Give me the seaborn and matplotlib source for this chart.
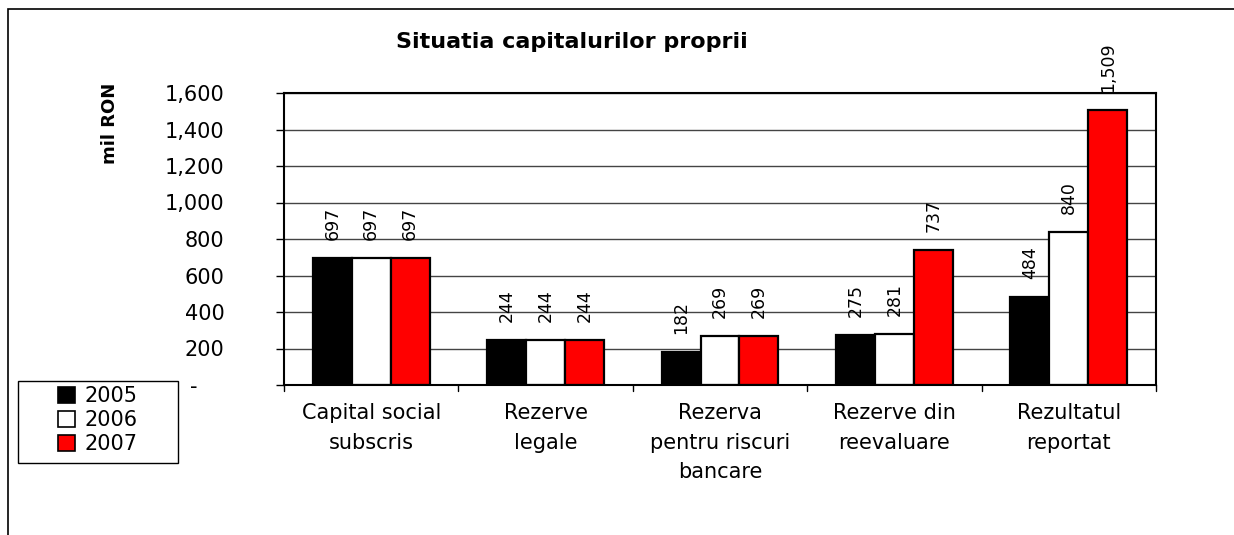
import matplotlib
matplotlib.use("Agg")
import matplotlib.pyplot as plt
import matplotlib.patches as mpatches
import seaborn as sns
import pandas as pd

categories = ["Capital social\nsubscris", "Rezerve\nlegale", "Rezerva\npentru riscuri\nbancare",
              "Rezerve din\nreevaluare", "Rezultatul\nreportat"]
years = ["2005", "2006", "2007"]
values_2005 = [697, 244, 182, 275, 484]
values_2006 = [697, 244, 269, 281, 840]
values_2007 = [697, 244, 269, 737, 1509]
yticks = [0, 200, 400, 600, 800, 1000, 1200, 1400, 1600]
colors = ["#000000", "#ffffff", "#ff0000"]

rows = []
for yr, vals in zip(years, [values_2005, values_2006, values_2007]):
    for cat, v in zip(categories, vals):
        rows.append({"categorie": cat, "an": yr, "valoare": v})
df = pd.DataFrame(rows)

sns.set_style("white")
plt.rcParams['font.family'] = ['DejaVu Sans']
plt.rcParams['text.color'] = 'black'
plt.rcParams['xtick.color'] = 'black'
plt.rcParams['ytick.color'] = 'black'

fig = plt.figure(figsize=(12.34, 5.35), dpi=100)
ax = fig.add_axes([284 / 1234, 1 - 385 / 535, (1156 - 284) / 1234, (385 - 93) / 535])

sns.barplot(data=df, x="categorie", y="valoare", hue="an", palette=colors,
            edgecolor="black", linewidth=1.6, width=0.67, saturation=1, ax=ax, legend=False)

for cont in ax.containers:
    ax.bar_label(cont, labels=[f"{v:,.0f}" for v in cont.datavalues], rotation=90,
                 padding=13, fontsize=12.5, color="black")

ax.set_ylim(0, 1600)
ax.set_xlim(-0.5, len(categories) - 0.5)
ax.set_yticks(yticks)
ax.set_yticklabels(["-    "] + [f"{t:,}" for t in yticks[1:]], fontsize=15)
ax.yaxis.grid(True, color="#444444", linewidth=1)
ax.set_axisbelow(True)
ax.set_xlabel("")
ax.set_ylabel("")
ax.set_xticks(range(len(categories)))
ax.set_xticklabels(categories, fontsize=15, linespacing=1.6)
ax.tick_params(axis="x", length=0, pad=13, labelcolor="black")
ax.tick_params(axis="y", left=True, length=6, width=1, color="black", pad=37,
               labelcolor="black")
for b in [0.5 + i for i in range(-1, len(categories))]:
    ax.plot([b, b], [0, -0.02], transform=ax.get_xaxis_transform(), color="black",
            linewidth=1, clip_on=False)
for s in ax.spines.values():
    s.set_color("black")
    s.set_linewidth(1.5)

fig.text(572 / 1234, 1 - 42 / 535, "Situatia capitalurilor proprii", ha="center",
         va="center", fontsize=16, fontweight="bold", color="black")
fig.text(110 / 1234, 1 - 123 / 535, "mil RON", rotation=90, ha="center", va="center",
         fontsize=13, fontweight="bold", color="black")

# legend: frame drawn as its own box, entries placed inside it
handles = [mpatches.Patch(facecolor=c, edgecolor="black", linewidth=1.2, label=y)
           for c, y in zip(colors, years)]
leg = fig.legend(handles=handles, loc="upper left",
                 bbox_to_anchor=(58 / 1234, 1 - 386 / 535), fontsize=15,
                 frameon=False, handlelength=0.8, handleheight=0.8,
                 handletextpad=0.45, labelspacing=0.2, borderpad=0,
                 borderaxespad=0, labelcolor="black")
fig.patches.append(mpatches.Rectangle((18 / 1234, 1 - 463 / 535), 160 / 1234, 82 / 535,
                                      transform=fig.transFigure, fill=False,
                                      edgecolor="black", linewidth=1))

# outer chart frame (right and bottom edges fall outside the picture)
fig.patches.append(mpatches.Rectangle((8 / 1234, -0.05), 1.1, 1 - 9 / 535 + 0.05,
                                      transform=fig.transFigure, fill=False,
                                      edgecolor="black", linewidth=1.2))

fig.savefig("out.png", dpi=100)
